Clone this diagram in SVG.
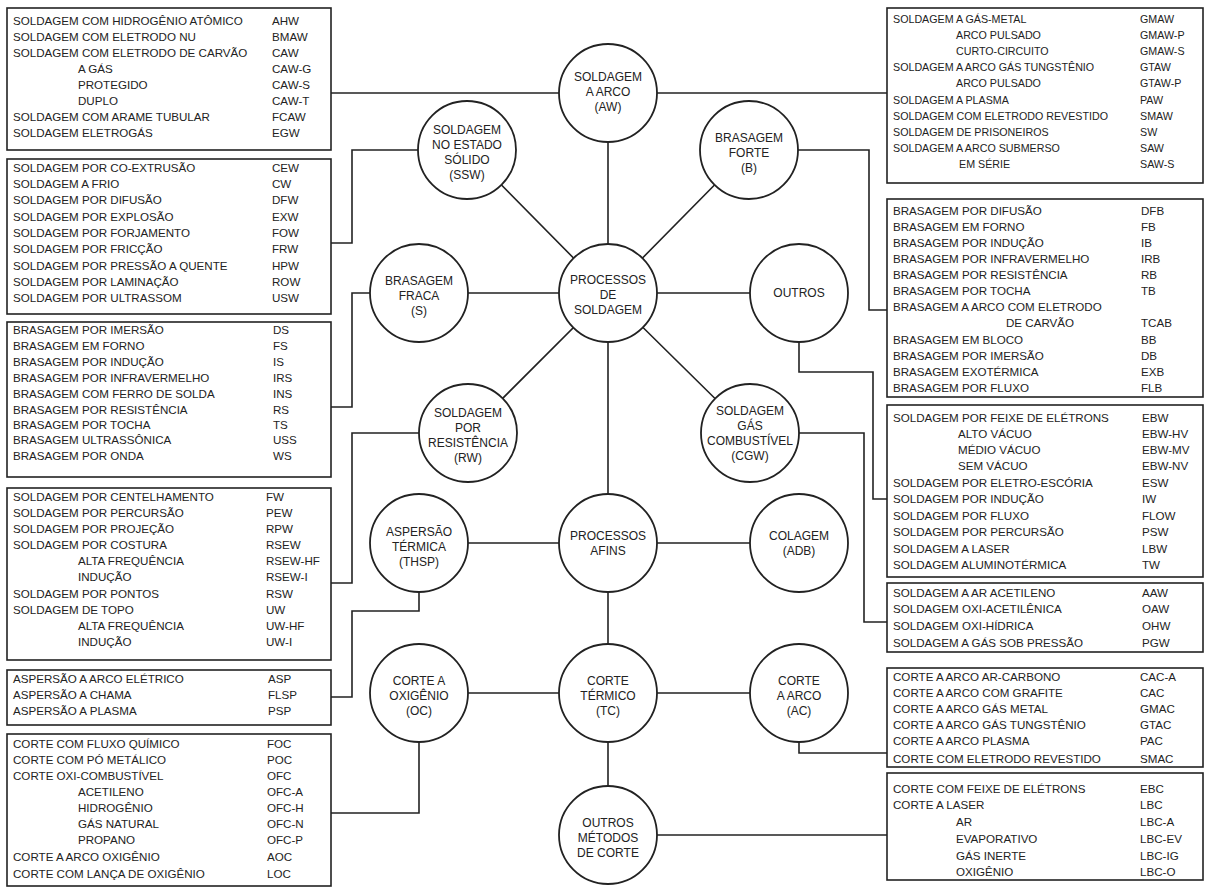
<svg xmlns="http://www.w3.org/2000/svg" width="1210" height="887" viewBox="0 0 1210 887">
<style>
.bg{fill:#fff}
.box{fill:#fff;stroke:#222;stroke-width:1.6}
.c{fill:#fff;stroke:#222;stroke-width:1.8}
.ln{fill:none;stroke:#222;stroke-width:1.6}
text{font-family:"Liberation Sans",Arial,sans-serif;font-size:11.6px;fill:#222}
#box-aw-right text{font-size:10.7px}
.ct{font-size:12px;text-anchor:middle}
</style>
<rect class="bg" x="0" y="0" width="1210" height="887"/>
<g id="connectors">
<path class="ln" d="M608 293V93M608 293L467 150M608 293L749 150M608 293H419M608 293H799M608 293L468 433M608 293L750 433M608 293V543M608 543H419M608 543H799M608 543V693M608 693H419M608 693H799M608 693V835"/>
<path class="ln" d="M331 93H887"/>
<path class="ln" d="M418 150H352V243H331"/>
<path class="ln" d="M370 293H352V407H331"/>
<path class="ln" d="M419 433H352V583H331"/>
<path class="ln" d="M419 592V611H352V697H331"/>
<path class="ln" d="M419 742V813H331"/>
<path class="ln" d="M798 150H869V310H887"/>
<path class="ln" d="M799 342V372H873V499H887"/>
<path class="ln" d="M799 433H864V622H887"/>
<path class="ln" d="M799 742V753H887"/>
<path class="ln" d="M657 835H887"/>
</g>
<g id="n-aw"><circle class="c" cx="608" cy="93" r="49"/><text class="ct" x="608" y="81">SOLDAGEM</text><text class="ct" x="608" y="96">A ARCO</text><text class="ct" x="608" y="111">(AW)</text></g>
<g id="n-ssw"><circle class="c" cx="467" cy="150" r="49"/><text class="ct" x="467" y="134">SOLDAGEM</text><text class="ct" x="467" y="149">NO ESTADO</text><text class="ct" x="467" y="164">SÓLIDO</text><text class="ct" x="467" y="179">(SSW)</text></g>
<g id="n-b"><circle class="c" cx="749" cy="150" r="49"/><text class="ct" x="749" y="142">BRASAGEM</text><text class="ct" x="749" y="157">FORTE</text><text class="ct" x="749" y="172">(B)</text></g>
<g id="n-s"><circle class="c" cx="419" cy="293" r="49"/><text class="ct" x="419" y="285">BRASAGEM</text><text class="ct" x="419" y="300">FRACA</text><text class="ct" x="419" y="315">(S)</text></g>
<g id="n-ps"><circle class="c" cx="608" cy="293" r="49"/><text class="ct" x="608" y="284">PROCESSOS</text><text class="ct" x="608" y="299">DE</text><text class="ct" x="608" y="314">SOLDAGEM</text></g>
<g id="n-outros"><circle class="c" cx="799" cy="293" r="49"/><text class="ct" x="799" y="297">OUTROS</text></g>
<g id="n-rw"><circle class="c" cx="468" cy="433" r="49"/><text class="ct" x="468" y="417">SOLDAGEM</text><text class="ct" x="468" y="432">POR</text><text class="ct" x="468" y="447">RESISTÊNCIA</text><text class="ct" x="468" y="462">(RW)</text></g>
<g id="n-cgw"><circle class="c" cx="750" cy="433" r="49"/><text class="ct" x="750" y="415">SOLDAGEM</text><text class="ct" x="750" y="430">GÁS</text><text class="ct" x="750" y="445">COMBUSTÍVEL</text><text class="ct" x="750" y="460">(CGW)</text></g>
<g id="n-thsp"><circle class="c" cx="419" cy="543" r="49"/><text class="ct" x="419" y="536">ASPERSÃO</text><text class="ct" x="419" y="551">TÉRMICA</text><text class="ct" x="419" y="566">(THSP)</text></g>
<g id="n-afins"><circle class="c" cx="608" cy="543" r="49"/><text class="ct" x="608" y="540">PROCESSOS</text><text class="ct" x="608" y="555">AFINS</text></g>
<g id="n-adb"><circle class="c" cx="799" cy="543" r="49"/><text class="ct" x="799" y="540">COLAGEM</text><text class="ct" x="799" y="555">(ADB)</text></g>
<g id="n-oc"><circle class="c" cx="419" cy="693" r="49"/><text class="ct" x="419" y="685">CORTE A</text><text class="ct" x="419" y="700">OXIGÊNIO</text><text class="ct" x="419" y="715">(OC)</text></g>
<g id="n-tc"><circle class="c" cx="608" cy="693" r="49"/><text class="ct" x="608" y="685">CORTE</text><text class="ct" x="608" y="700">TÉRMICO</text><text class="ct" x="608" y="715">(TC)</text></g>
<g id="n-ac"><circle class="c" cx="799" cy="693" r="49"/><text class="ct" x="799" y="685">CORTE</text><text class="ct" x="799" y="700">A ARCO</text><text class="ct" x="799" y="715">(AC)</text></g>
<g id="n-omc"><circle class="c" cx="608" cy="835" r="49"/><text class="ct" x="608" y="827">OUTROS</text><text class="ct" x="608" y="842">MÉTODOS</text><text class="ct" x="608" y="857">DE CORTE</text></g>

<g id="box-aw-left"><rect class="box" x="7" y="8" width="324" height="142"/>
<text x="13" y="25">SOLDAGEM COM HIDROGÊNIO ATÔMICO</text><text x="272" y="25">AHW</text>
<text x="13" y="41">SOLDAGEM COM ELETRODO NU</text><text x="272" y="41">BMAW</text>
<text x="13" y="57">SOLDAGEM COM ELETRODO DE CARVÃO</text><text x="272" y="57">CAW</text>
<text x="78" y="73">A GÁS</text><text x="272" y="73">CAW-G</text>
<text x="78" y="89">PROTEGIDO</text><text x="272" y="89">CAW-S</text>
<text x="78" y="105">DUPLO</text><text x="272" y="105">CAW-T</text>
<text x="13" y="121">SOLDAGEM COM ARAME TUBULAR</text><text x="272" y="121">FCAW</text>
<text x="13" y="137">SOLDAGEM ELETROGÁS</text><text x="272" y="137">EGW</text></g>

<g id="box-ssw"><rect class="box" x="7" y="159" width="324" height="155"/>
<text x="13" y="172">SOLDAGEM POR CO-EXTRUSÃO</text><text x="272" y="172">CEW</text>
<text x="13" y="188">SOLDAGEM A FRIO</text><text x="272" y="188">CW</text>
<text x="13" y="204">SOLDAGEM POR DIFUSÃO</text><text x="272" y="204">DFW</text>
<text x="13" y="221">SOLDAGEM POR EXPLOSÃO</text><text x="272" y="221">EXW</text>
<text x="13" y="237">SOLDAGEM POR FORJAMENTO</text><text x="272" y="237">FOW</text>
<text x="13" y="253">SOLDAGEM POR FRICÇÃO</text><text x="272" y="253">FRW</text>
<text x="13" y="270">SOLDAGEM POR PRESSÃO A QUENTE</text><text x="272" y="270">HPW</text>
<text x="13" y="286">SOLDAGEM POR LAMINAÇÃO</text><text x="272" y="286">ROW</text>
<text x="13" y="302">SOLDAGEM POR ULTRASSOM</text><text x="272" y="302">USW</text></g>

<g id="box-s"><rect class="box" x="7" y="322" width="324" height="155"/>
<text x="13" y="334">BRASAGEM POR IMERSÃO</text><text x="273" y="334">DS</text>
<text x="13" y="350">BRASAGEM EM FORNO</text><text x="273" y="350">FS</text>
<text x="13" y="366">BRASAGEM POR INDUÇÃO</text><text x="273" y="366">IS</text>
<text x="13" y="382">BRASAGEM POR INFRAVERMELHO</text><text x="273" y="382">IRS</text>
<text x="13" y="398">BRASAGEM COM FERRO DE SOLDA</text><text x="273" y="398">INS</text>
<text x="13" y="414">BRASAGEM POR RESISTÊNCIA</text><text x="273" y="414">RS</text>
<text x="13" y="429">BRASAGEM POR TOCHA</text><text x="273" y="429">TS</text>
<text x="13" y="444">BRASAGEM ULTRASSÔNICA</text><text x="273" y="444">USS</text>
<text x="13" y="460">BRASAGEM POR ONDA</text><text x="273" y="460">WS</text></g>

<g id="box-rw"><rect class="box" x="7" y="488" width="324" height="172"/>
<text x="13" y="501">SOLDAGEM POR CENTELHAMENTO</text><text x="266" y="501">FW</text>
<text x="13" y="517">SOLDAGEM POR PERCURSÃO</text><text x="266" y="517">PEW</text>
<text x="13" y="533">SOLDAGEM POR PROJEÇÃO</text><text x="266" y="533">RPW</text>
<text x="13" y="549">SOLDAGEM POR COSTURA</text><text x="266" y="549">RSEW</text>
<text x="78" y="565">ALTA FREQUÊNCIA</text><text x="266" y="565">RSEW-HF</text>
<text x="78" y="581">INDUÇÃO</text><text x="266" y="581">RSEW-I</text>
<text x="13" y="598">SOLDAGEM POR PONTOS</text><text x="266" y="598">RSW</text>
<text x="13" y="614">SOLDAGEM DE TOPO</text><text x="266" y="614">UW</text>
<text x="78" y="630">ALTA FREQUÊNCIA</text><text x="266" y="630">UW-HF</text>
<text x="78" y="646">INDUÇÃO</text><text x="266" y="646">UW-I</text></g>

<g id="box-thsp"><rect class="box" x="7" y="670" width="324" height="55"/>
<text x="13" y="683">ASPERSÃO A ARCO ELÉTRICO</text><text x="268" y="683">ASP</text>
<text x="13" y="699">ASPERSÃO A CHAMA</text><text x="268" y="699">FLSP</text>
<text x="13" y="715">ASPERSÃO A PLASMA</text><text x="268" y="715">PSP</text></g>

<g id="box-oc"><rect class="box" x="7" y="734" width="324" height="152"/>
<text x="13" y="748">CORTE COM FLUXO QUÍMICO</text><text x="267" y="748">FOC</text>
<text x="13" y="764">CORTE COM PÓ METÁLICO</text><text x="267" y="764">POC</text>
<text x="13" y="780">CORTE OXI-COMBUSTÍVEL</text><text x="267" y="780">OFC</text>
<text x="78" y="796">ACETILENO</text><text x="267" y="796">OFC-A</text>
<text x="78" y="812">HIDROGÊNIO</text><text x="267" y="812">OFC-H</text>
<text x="78" y="828">GÁS NATURAL</text><text x="267" y="828">OFC-N</text>
<text x="78" y="844">PROPANO</text><text x="267" y="844">OFC-P</text>
<text x="13" y="861">CORTE A ARCO OXIGÊNIO</text><text x="267" y="861">AOC</text>
<text x="13" y="878">CORTE COM LANÇA DE OXIGÊNIO</text><text x="267" y="878">LOC</text></g>

<g id="box-aw-right"><rect class="box" x="887" y="8" width="316" height="175"/>
<text x="893" y="23">SOLDAGEM A GÁS-METAL</text><text x="1140" y="23">GMAW</text>
<text x="956" y="39">ARCO PULSADO</text><text x="1140" y="39">GMAW-P</text>
<text x="956" y="55">CURTO-CIRCUITO</text><text x="1140" y="55">GMAW-S</text>
<text x="893" y="71">SOLDAGEM A ARCO GÁS TUNGSTÊNIO</text><text x="1140" y="71">GTAW</text>
<text x="956" y="87">ARCO PULSADO</text><text x="1140" y="87">GTAW-P</text>
<text x="893" y="104">SOLDAGEM A PLASMA</text><text x="1140" y="104">PAW</text>
<text x="893" y="120">SOLDAGEM COM ELETRODO REVESTIDO</text><text x="1140" y="120">SMAW</text>
<text x="893" y="136">SOLDAGEM DE PRISONEIROS</text><text x="1140" y="136">SW</text>
<text x="893" y="152">SOLDAGEM A ARCO SUBMERSO</text><text x="1140" y="152">SAW</text>
<text x="959" y="168">EM SÉRIE</text><text x="1140" y="168">SAW-S</text></g>

<g id="box-b"><rect class="box" x="887" y="199" width="316" height="198"/>
<text x="893" y="215">BRASAGEM POR DIFUSÃO</text><text x="1141" y="215">DFB</text>
<text x="893" y="231">BRASAGEM EM FORNO</text><text x="1141" y="231">FB</text>
<text x="893" y="247">BRASAGEM POR INDUÇÃO</text><text x="1141" y="247">IB</text>
<text x="893" y="263">BRASAGEM POR INFRAVERMELHO</text><text x="1141" y="263">IRB</text>
<text x="893" y="279">BRASAGEM POR RESISTÊNCIA</text><text x="1141" y="279">RB</text>
<text x="893" y="295">BRASAGEM POR TOCHA</text><text x="1141" y="295">TB</text>
<text x="893" y="311">BRASAGEM A ARCO COM ELETRODO</text>
<text x="1006" y="327">DE CARVÃO</text><text x="1141" y="327">TCAB</text>
<text x="893" y="344">BRASAGEM EM BLOCO</text><text x="1141" y="344">BB</text>
<text x="893" y="360">BRASAGEM POR IMERSÃO</text><text x="1141" y="360">DB</text>
<text x="893" y="376">BRASAGEM EXOTÉRMICA</text><text x="1141" y="376">EXB</text>
<text x="893" y="392">BRASAGEM POR FLUXO</text><text x="1141" y="392">FLB</text></g>

<g id="box-outros"><rect class="box" x="887" y="405" width="316" height="172"/>
<text x="893" y="422">SOLDAGEM POR FEIXE DE ELÉTRONS</text><text x="1142" y="422">EBW</text>
<text x="958" y="438">ALTO VÁCUO</text><text x="1142" y="438">EBW-HV</text>
<text x="958" y="454">MÉDIO VÁCUO</text><text x="1142" y="454">EBW-MV</text>
<text x="958" y="470">SEM VÁCUO</text><text x="1142" y="470">EBW-NV</text>
<text x="893" y="487">SOLDAGEM POR ELETRO-ESCÓRIA</text><text x="1142" y="487">ESW</text>
<text x="893" y="503">SOLDAGEM POR INDUÇÃO</text><text x="1142" y="503">IW</text>
<text x="893" y="520">SOLDAGEM POR FLUXO</text><text x="1142" y="520">FLOW</text>
<text x="893" y="536">SOLDAGEM POR PERCURSÃO</text><text x="1142" y="536">PSW</text>
<text x="893" y="553">SOLDAGEM A LASER</text><text x="1142" y="553">LBW</text>
<text x="893" y="569">SOLDAGEM ALUMINOTÉRMICA</text><text x="1142" y="569">TW</text></g>

<g id="box-cgw"><rect class="box" x="887" y="583" width="316" height="69"/>
<text x="893" y="597">SOLDAGEM A AR ACETILENO</text><text x="1142" y="597">AAW</text>
<text x="893" y="613">SOLDAGEM OXI-ACETILÊNICA</text><text x="1142" y="613">OAW</text>
<text x="893" y="630">SOLDAGEM OXI-HÍDRICA</text><text x="1142" y="630">OHW</text>
<text x="893" y="647">SOLDAGEM A GÁS SOB PRESSÃO</text><text x="1142" y="647">PGW</text></g>

<g id="box-ac"><rect class="box" x="887" y="668" width="316" height="99"/>
<text x="893" y="681">CORTE A ARCO AR-CARBONO</text><text x="1140" y="681">CAC-A</text>
<text x="893" y="697">CORTE A ARCO COM GRAFITE</text><text x="1140" y="697">CAC</text>
<text x="893" y="713">CORTE A ARCO GÁS METAL</text><text x="1140" y="713">GMAC</text>
<text x="893" y="729">CORTE A ARCO GÁS TUNGSTÊNIO</text><text x="1140" y="729">GTAC</text>
<text x="893" y="745">CORTE A ARCO PLASMA</text><text x="1140" y="745">PAC</text>
<text x="893" y="763">CORTE COM ELETRODO REVESTIDO</text><text x="1140" y="763">SMAC</text></g>

<g id="box-omc"><rect class="box" x="887" y="773" width="316" height="107"/>
<text x="893" y="793">CORTE COM FEIXE DE ELÉTRONS</text><text x="1140" y="793">EBC</text>
<text x="893" y="809">CORTE A LASER</text><text x="1140" y="809">LBC</text>
<text x="956" y="826">AR</text><text x="1140" y="826">LBC-A</text>
<text x="956" y="843">EVAPORATIVO</text><text x="1140" y="843">LBC-EV</text>
<text x="956" y="860">GÁS INERTE</text><text x="1140" y="860">LBC-IG</text>
<text x="956" y="876">OXIGÊNIO</text><text x="1140" y="876">LBC-O</text></g>
</svg>
